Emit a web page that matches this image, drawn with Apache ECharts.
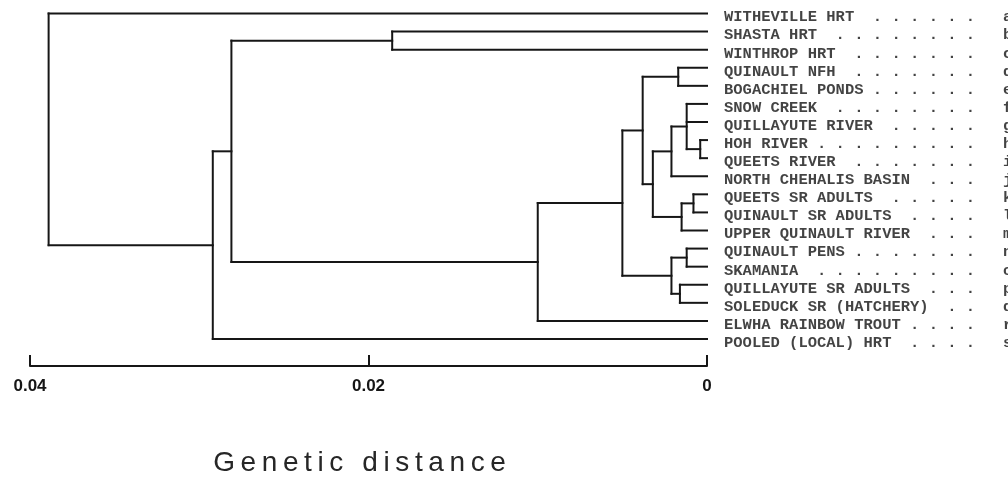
<!DOCTYPE html>
<html>
<head>
<meta charset="utf-8">
<script src="https://cdn.jsdelivr.net/npm/echarts@6/dist/echarts.min.js"></script>
<style>
html, body { margin: 0; padding: 0; background: #fff; }
#chart { width: 1008px; height: 482px; }
</style>
</head>
<body>
<div id="chart"></div>
<script>
// Populations, listed top to bottom in dendrogram order
const leafNames = [
  'WITHEVILLE HRT', 'SHASTA HRT', 'WINTHROP HRT', 'QUINAULT NFH', 'BOGACHIEL PONDS',
  'SNOW CREEK', 'QUILLAYUTE RIVER', 'HOH RIVER', 'QUEETS RIVER', 'NORTH CHEHALIS BASIN',
  'QUEETS SR ADULTS', 'QUINAULT SR ADULTS', 'UPPER QUINAULT RIVER', 'QUINAULT PENS', 'SKAMANIA',
  'QUILLAYUTE SR ADULTS', 'SOLEDUCK SR (HATCHERY)', 'ELWHA RAINBOW TROUT', 'POOLED (LOCAL) HRT'
];
// Reference letter typed after each population's dot leader
const leafTags = ['a','b','c','d','e','f','g','h','i','j','k','l','m','n','o','p','q','r','s'];
// Typewriter column where each dot leader begins
const dotStart = [16, 12, 14, 14, 16, 12, 18, 10, 14, 22, 18, 20, 22, 14, 10, 22, 24, 20, 20];

// Cluster joins: children are leaf indices or earlier join ids; heights are genetic distance
const mergeIds = ['A','B','C','D','E','F','G','H','I','J','K','L','M','N','O','P','Q'];
const mergeChildren = [
  [1, 2], [3, 4], [7, 8], [5, 6, 'C'], ['D', 9], [10, 11], ['F', 12], ['E', 'G'],
  ['B', 'H'], [13, 14], [15, 16], ['J', 'K'], ['I', 'L'], ['M', 17], ['A', 'N'], ['O', 18], [0, 'P']
];
const mergeHeights = [
  0.0186, 0.0017, 0.0004, 0.0012, 0.0021, 0.0008, 0.0015, 0.0032,
  0.0038, 0.0012, 0.0016, 0.0021, 0.0050, 0.0100, 0.0281, 0.0292, 0.0389
];

// Distance scale
const axisMin = 0;
const axisMax = 0.04;
const axisStep = 0.02;
const axisTitle = 'Genetic distance';

// Tree layout: leaves sit at distance 0, each join at the midpoint of its outer children
const nodePos = {};
leafNames.forEach((n, i) => { nodePos[i] = { h: 0, y: i }; });
mergeIds.forEach((id, k) => {
  const kids = mergeChildren[k].map(c => nodePos[c]);
  const ys = kids.map(p => p.y);
  nodePos[id] = { h: mergeHeights[k], y: (Math.min(...ys) + Math.max(...ys)) / 2 };
});

function leaderText(i) {
  const name = leafNames[i];
  let s = name;
  for (let c = name.length; c <= 26; c++) {
    s += (c >= dotStart[i] && c % 2 === 0) ? '.' : ' ';
  }
  return s + '   ' + leafTags[i];
}

// Spread the axis title's letters like the printed caption
const spacedTitle = axisTitle.split('').join('\u2009');

const ink = '#161616';
const chart = echarts.init(document.getElementById('chart'), null, { renderer: 'canvas' });

chart.setOption({
  backgroundColor: '#ffffff',
  animation: false,
  grid: { left: 30, right: 301, top: 13.5, bottom: 125, containLabel: false },
  xAxis: {
    type: 'value',
    position: 'bottom',
    offset: 27,
    inverse: true,
    min: axisMin,
    max: axisMax,
    interval: axisStep,
    splitLine: { show: false },
    axisLine: { show: true, onZero: false, lineStyle: { color: ink, width: 2 } },
    axisTick: { show: true, inside: true, length: 11, lineStyle: { color: ink, width: 2 } },
    axisLabel: {
      margin: 12,
      color: ink,
      fontFamily: 'Liberation Sans, Arial, sans-serif',
      fontWeight: 'bold',
      fontSize: 17,
      formatter: v => (v === 0 ? '0' : v.toFixed(2))
    },
    name: spacedTitle,
    nameLocation: 'middle',
    nameGap: 83,
    nameTextStyle: {
      color: '#262626',
      fontFamily: 'Liberation Sans, Arial, sans-serif',
      fontSize: 28,
      padding: [0, 18, 0, 0]
    }
  },
  yAxis: {
    type: 'value',
    inverse: true,
    min: 0,
    max: leafNames.length - 1,
    interval: 1,
    show: false
  },
  series: [
    {
      type: 'custom',
      coordinateSystem: 'cartesian2d',
      data: mergeIds.map((id, k) => [mergeHeights[k], nodePos[id].y, k]),
      renderItem: function (params, api) {
        const k = api.value(2);
        const id = mergeIds[k];
        const h = nodePos[id].h;
        const kids = mergeChildren[k].map(c => nodePos[c]);
        const ys = kids.map(p => p.y);
        const top = api.coord([h, Math.min(...ys)]);
        const bot = api.coord([h, Math.max(...ys)]);
        const style = { stroke: ink, lineWidth: 2, lineCap: 'square', fill: null };
        const children = [{
          type: 'line',
          shape: { x1: top[0], y1: top[1], x2: bot[0], y2: bot[1] },
          style: style
        }];
        kids.forEach(p => {
          const a = api.coord([p.h, p.y]);
          const b = api.coord([h, p.y]);
          children.push({
            type: 'line',
            shape: { x1: a[0], y1: a[1], x2: b[0], y2: b[1] },
            style: style
          });
        });
        return { type: 'group', children: children };
      },
      silent: true,
      z: 3
    },
    {
      type: 'scatter',
      data: leafNames.map((n, i) => [0, i]),
      symbolSize: 0,
      silent: true,
      label: {
        show: true,
        position: 'right',
        distance: 17,
        offset: [0, 4],
        color: '#141414',
        fontFamily: 'Liberation Mono, monospace',
        fontWeight: 'bold',
        fontSize: 15.5,
        formatter: p => leaderText(p.dataIndex)
      }
    }
  ]
});
</script>
</body>
</html>
